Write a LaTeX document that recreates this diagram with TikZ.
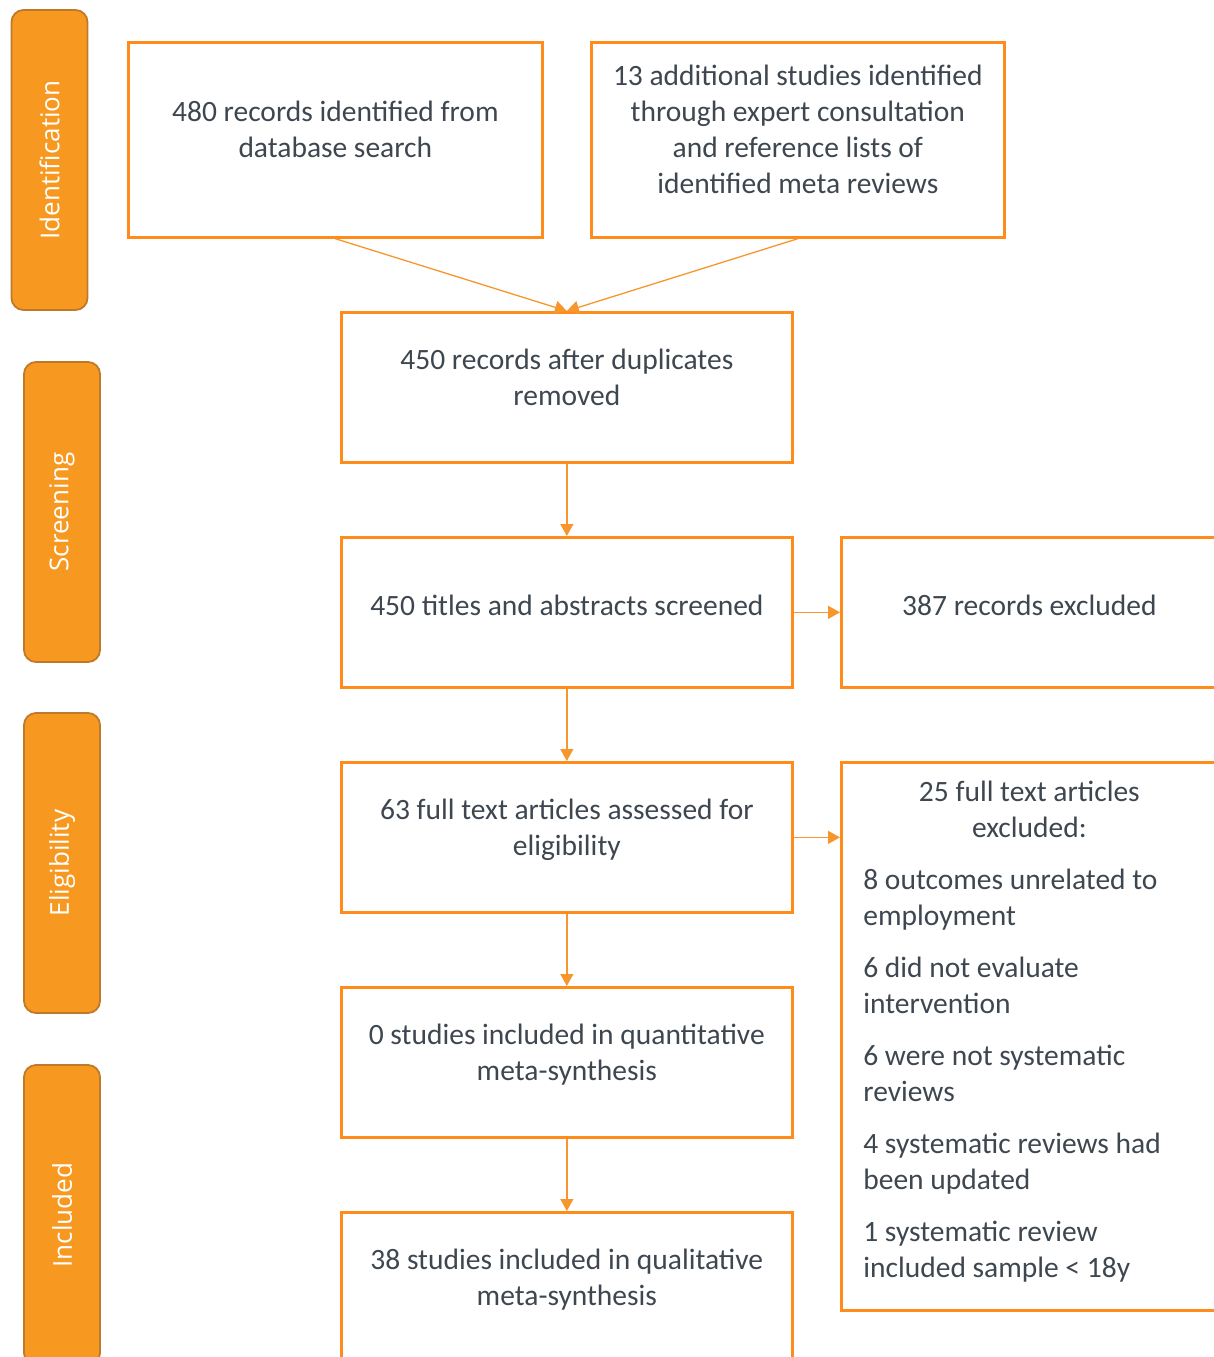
\documentclass[tikz,border=0pt]{standalone}
\usepackage{fontspec}
\setmainfont{Carlito}
\newfontfamily\barfont{Open Sans}
\usetikzlibrary{arrows.meta}
\definecolor{boxorange}{RGB}{255,140,26}
\definecolor{barfill}{RGB}{247,153,33}
\definecolor{bardraw}{RGB}{190,122,40}
\definecolor{arroworange}{RGB}{247,150,45}
\definecolor{txtgrey}{RGB}{62,70,80}
\tikzset{
  flowbox/.style={draw=boxorange, line width=2.7pt, minimum width=451pt,
    minimum height=150pt, align=center, inner sep=0pt, anchor=north west,
    text=txtgrey, font=\fontsize{29.5}{36}\selectfont,
    execute at begin node={\rule{0pt}{27pt}},
    execute at end node={\rule[-21pt]{0pt}{0pt}}},
  stagebar/.style={draw=bardraw, fill=barfill, line width=1.8pt,
    rounded corners=12pt, minimum width=300pt, minimum height=76pt,
    rotate=90, text=white, font=\barfont\fontsize{26}{30}\selectfont},
  flowarrow/.style={draw=arroworange, line width=1.3pt,
    -{Triangle[length=12pt,width=13pt]}}
}
\begin{document}
\begin{tikzpicture}[x=1pt,y=-1pt]
    \useasboundingbox (0,0) rectangle (1214,1357);
    \clip (0,0) rectangle (1214,1357);
    \node[stagebar] (ident) at (49.5,160) {Identification};
    \node[stagebar] (screen) at (62,512) {Screening};
    \node[stagebar] (elig) at (62,863) {Eligibility};
    \node[stagebar] (incl) at (62,1215) {Included};
    \node[flowbox, minimum width=414pt, minimum height=195pt] (dbsearch)
        at (127,41) {480 records identified from\\database search};
    \node[flowbox, minimum width=413pt, minimum height=195pt] (expert)
        at (590,41) {13 additional studies identified\\through expert consultation\\and reference lists of\\identified meta reviews};
    \node[flowbox] (dedup) at (340,311) {450 records after duplicates\\removed};
    \node[flowbox] (screened) at (340,536) {450 titles and abstracts screened};
    \node[flowbox, minimum width=376pt] (excluded)
        at (840,536) {387 records excluded};
    \node[flowbox] (fulltext) at (340,761) {63 full text articles assessed for\\eligibility};
    \node[flowbox, minimum width=376pt, minimum height=548pt, text width=332pt,
        align=none] (ftexcluded) at (840,761)
        {{\centering 25 full text articles\\excluded:\par}\vspace{16pt}
        \raggedright
        8 outcomes unrelated to\\employment\par\vspace{16pt}
        6 did not evaluate\\intervention\par\vspace{16pt}
        6 were not systematic\\reviews\par\vspace{16pt}
        4 systematic reviews had\\been updated\par\vspace{16pt}
        1 systematic review\\included sample < 18y};
    \node[flowbox] (quant) at (340,986) {0 studies included in quantitative\\meta-synthesis};
    \node[flowbox] (qual) at (340,1211) {38 studies included in qualitative\\meta-synthesis};
    \draw[flowarrow] (dbsearch.south) -- (dedup.north);
    \draw[flowarrow] (expert.south) -- (dedup.north);
    \draw[flowarrow] (dedup) -- (screened);
    \draw[flowarrow] (screened) -- (excluded);
    \draw[flowarrow] (screened) -- (fulltext);
    \draw[flowarrow] (fulltext.east) -- (fulltext.east -| ftexcluded.west);
    \draw[flowarrow] (fulltext) -- (quant);
    \draw[flowarrow] (quant) -- (qual);
\end{tikzpicture}
\end{document}
